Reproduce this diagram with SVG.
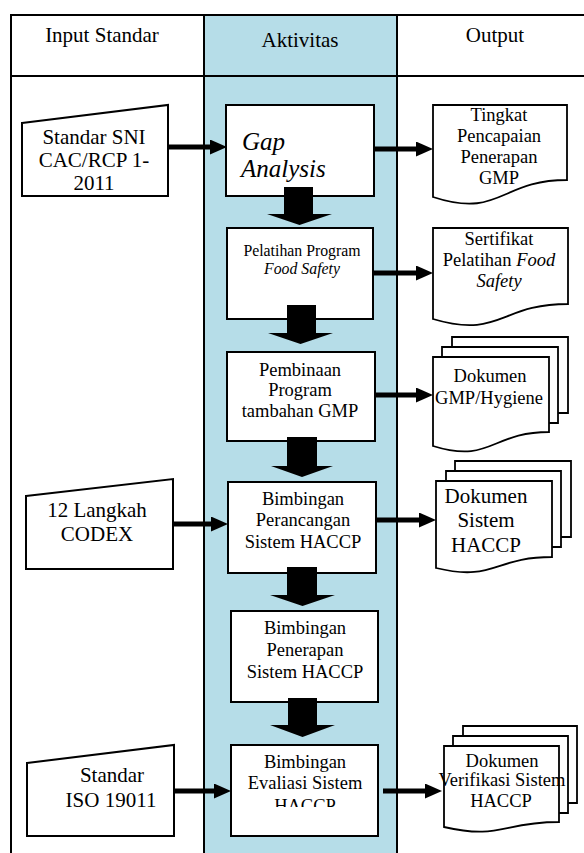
<svg xmlns="http://www.w3.org/2000/svg" width="584" height="853" viewBox="0 0 584 853">
<defs>
<style>
.grid{stroke:#000;stroke-width:2;fill:none}
.box{fill:#fff;stroke:#000;stroke-width:2}
.doc{fill:#fff;stroke:#000;stroke-width:1.8}
.arr{stroke:#000;stroke-width:5;fill:none}
.blk{fill:#000}
</style>
<marker id="ah" viewBox="0 0 17 15" markerUnits="userSpaceOnUse" markerWidth="17" markerHeight="15" refX="0" refY="7.5" orient="auto">
<path d="M0,0 L17,7.5 L0,15 Z" fill="#000"/>
</marker>
<clipPath id="clip6"><rect x="231" y="745" width="147" height="62"/></clipPath>
</defs>
<rect x="0" y="0" width="584" height="853" fill="#fff"/>
<g id="table">
<rect x="204" y="15" width="193" height="838" fill="#b6dde8"/>
<path class="grid" d="M11,853 V15 H584 M11,76 H584 M204,15 V853 M397,15 V853"/>
<text font-family="Liberation Serif, serif" font-size="21" text-anchor="middle" x="102" y="42">Input Standar</text>
<text font-family="Liberation Serif, serif" font-size="21" text-anchor="middle" x="300" y="47">Aktivitas</text>
<text font-family="Liberation Serif, serif" font-size="21" text-anchor="middle" x="495" y="42">Output</text>
</g>
<g id="in1">
<path class="box" d="M22,123 L168,105 L168,196 L22,196 Z"/>
<text font-family="Liberation Serif, serif" font-size="21" text-anchor="middle" x="94" y="144">Standar SNI</text>
<text font-family="Liberation Serif, serif" font-size="21" text-anchor="middle" x="94" y="167">CAC/RCP 1-</text>
<text font-family="Liberation Serif, serif" font-size="21" text-anchor="middle" x="94" y="190">2011</text>
</g>
<g id="in2">
<path class="box" d="M26,496 L173,479 L173,569 L26,569 Z"/>
<text font-family="Liberation Serif, serif" font-size="21" text-anchor="middle" x="97" y="517">12 Langkah</text>
<text font-family="Liberation Serif, serif" font-size="21" text-anchor="middle" x="97" y="541">CODEX</text>
</g>
<g id="in3">
<path class="box" d="M27,763 L174,745 L174,836 L27,836 Z"/>
<text font-family="Liberation Serif, serif" font-size="21" text-anchor="middle" x="112" y="782">Standar</text>
<text font-family="Liberation Serif, serif" font-size="21" text-anchor="middle" x="111" y="807">ISO 19011</text>
</g>
<g id="act1">
<rect class="box" x="226" y="105" width="148" height="91"/>
<text font-family="Liberation Serif, serif" font-size="25" font-style="italic" x="242" y="150">Gap</text>
<text font-family="Liberation Serif, serif" font-size="25" font-style="italic" x="241" y="177">Analysis</text>
</g>
<g id="act2">
<rect class="box" x="227" y="228" width="146" height="91"/>
<text font-family="Liberation Serif, serif" font-size="15.8" text-anchor="middle" x="302" y="256">Pelatihan Program</text>
<text font-family="Liberation Serif, serif" font-size="15.8" font-style="italic" text-anchor="middle" x="302" y="274">Food Safety</text>
</g>
<g id="act3">
<rect class="box" x="227" y="352" width="148" height="89"/>
<text font-family="Liberation Serif, serif" font-size="18.5" text-anchor="middle" x="300" y="376">Pembinaan</text>
<text font-family="Liberation Serif, serif" font-size="18.5" text-anchor="middle" x="300" y="396">Program</text>
<text font-family="Liberation Serif, serif" font-size="18.5" text-anchor="middle" x="300" y="417">tambahan GMP</text>
</g>
<g id="act4">
<rect class="box" x="228" y="482" width="148" height="91"/>
<text font-family="Liberation Serif, serif" font-size="18.5" text-anchor="middle" x="303" y="505">Bimbingan</text>
<text font-family="Liberation Serif, serif" font-size="18.5" text-anchor="middle" x="303" y="526">Perancangan</text>
<text font-family="Liberation Serif, serif" font-size="18.5" text-anchor="middle" x="303" y="548">Sistem HACCP</text>
</g>
<g id="act5">
<rect class="box" x="231" y="611" width="147" height="91"/>
<text font-family="Liberation Serif, serif" font-size="18.5" text-anchor="middle" x="305" y="634">Bimbingan</text>
<text font-family="Liberation Serif, serif" font-size="18.5" text-anchor="middle" x="305" y="656">Penerapan</text>
<text font-family="Liberation Serif, serif" font-size="18.5" text-anchor="middle" x="305" y="678">Sistem HACCP</text>
</g>
<g id="act6">
<rect class="box" x="231" y="745" width="147" height="91"/>
<text font-family="Liberation Serif, serif" font-size="18.5" text-anchor="middle" x="305" y="768">Bimbingan</text>
<text font-family="Liberation Serif, serif" font-size="18.5" text-anchor="middle" x="305" y="789">Evaliasi Sistem</text>
<text font-family="Liberation Serif, serif" font-size="18.5" text-anchor="middle" x="305" y="812" clip-path="url(#clip6)">HACCP</text>
</g>
<g id="out1">
<path class="doc" d="M433,105 H567 V180 C500,180 500,219 433,197 Z"/>
<text font-family="Liberation Serif, serif" font-size="18.5" text-anchor="middle" x="499" y="121">Tingkat</text>
<text font-family="Liberation Serif, serif" font-size="18.5" text-anchor="middle" x="499" y="142">Pencapaian</text>
<text font-family="Liberation Serif, serif" font-size="18.5" text-anchor="middle" x="499" y="163">Penerapan</text>
<text font-family="Liberation Serif, serif" font-size="18.5" text-anchor="middle" x="499" y="184">GMP</text>
</g>
<g id="out2">
<path class="doc" d="M433,228 H568 V304 C500,304 500,339 433,319 Z"/>
<text font-family="Liberation Serif, serif" font-size="18.5" text-anchor="middle" x="499" y="245">Sertifikat</text>
<text font-family="Liberation Serif, serif" font-size="18.5" text-anchor="middle" x="499" y="266">Pelatihan <tspan font-style="italic">Food</tspan></text>
<text font-family="Liberation Serif, serif" font-size="18.5" font-style="italic" text-anchor="middle" x="499" y="287">Safety</text>
</g>
<g id="out3">
<path class="doc" d="M452,347 V337 H568 V413 H558"/>
<path class="doc" d="M442,357 V347 H558 V423 H549"/>
<path class="doc" d="M433,357 H549 V432 C491,432 491,464 433,446 Z"/>
<text font-family="Liberation Serif, serif" font-size="18.5" text-anchor="middle" x="490" y="382">Dokumen</text>
<text font-family="Liberation Serif, serif" font-size="18.5" text-anchor="middle" x="489" y="404">GMP/Hygiene</text>
</g>
<g id="out4">
<path class="doc" d="M455,471 V461 H571 V537 H561"/>
<path class="doc" d="M446,481 V471 H561 V547 H552"/>
<path class="doc" d="M436,481 H552 V557 C494,557 494,582 436,568 Z"/>
<text font-family="Liberation Serif, serif" font-size="21" text-anchor="middle" x="486" y="503">Dokumen</text>
<text font-family="Liberation Serif, serif" font-size="21" text-anchor="middle" x="486" y="527">Sistem</text>
<text font-family="Liberation Serif, serif" font-size="21" text-anchor="middle" x="486" y="552">HACCP</text>
</g>
<g id="out6">
<path class="doc" d="M463,736 V726 H577 V803 H568"/>
<path class="doc" d="M453,746 V736 H568 V813 H559"/>
<path class="doc" d="M444,746 H559 V822 C501,822 501,840 444,827 Z"/>
<text font-family="Liberation Serif, serif" font-size="18.5" text-anchor="middle" x="502" y="767">Dokumen</text>
<text font-family="Liberation Serif, serif" font-size="18.5" text-anchor="middle" x="502" y="786">Verifikasi Sistem</text>
<text font-family="Liberation Serif, serif" font-size="18.5" text-anchor="middle" x="501" y="807">HACCP</text>
</g>
<g id="connectors">
<line class="arr" x1="168" y1="147" x2="210" y2="147" marker-end="url(#ah)"/>
<line class="arr" x1="374" y1="149" x2="416" y2="149" marker-end="url(#ah)"/>
<line class="arr" x1="373" y1="273" x2="416" y2="273" marker-end="url(#ah)"/>
<line class="arr" x1="375" y1="395" x2="416" y2="395" marker-end="url(#ah)"/>
<line class="arr" x1="173" y1="524" x2="211" y2="524" marker-end="url(#ah)"/>
<line class="arr" x1="376" y1="520" x2="419" y2="520" marker-end="url(#ah)"/>
<line class="arr" x1="174" y1="791" x2="214" y2="791" marker-end="url(#ah)"/>
<line class="arr" x1="383" y1="791" x2="425" y2="791" marker-end="url(#ah)"/>
<polygon class="blk" points="284,187 313,187 313,214 332,214 299.5,225 267,214 284,214"/>
<polygon class="blk" points="287,305 316,305 316,333 333,333 300.5,344 268,333 287,333"/>
<polygon class="blk" points="287,437 317,437 317,466 333,466 302,477 271,466 287,466"/>
<polygon class="blk" points="287,567 317,567 317,595 335,595 302.5,606 270,595 287,595"/>
<polygon class="blk" points="288,698 317,698 317,725 335,725 302.5,737 270,725 288,725"/>
</g>
</svg>
